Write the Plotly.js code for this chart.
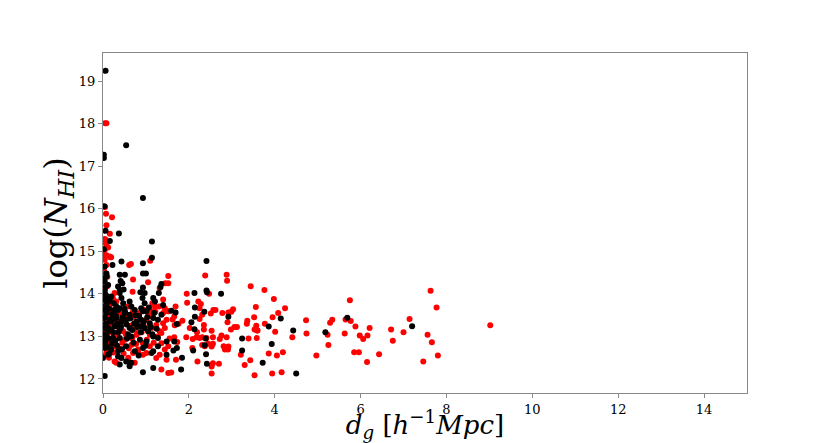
<!DOCTYPE html>
<html>
<head>
<meta charset="utf-8">
<script src="https://cdn.plot.ly/plotly-3.0.1.min.js"></script>
<style>
  html, body { margin: 0; padding: 0; background: #fff; }
  #chart { width: 830px; height: 443px; }
</style>
</head>
<body>
<div id="chart"></div>
<script>
// black sample: distance to galaxy vs log column density
var xBlack = [
  0.06, 0.54, 0.02, 0.02, 0.93, 0.03, 0.06, 0.37, 0.16, 1.14, 0.02, 1.14,
  0.43, 0.93, 0.22, 0.04, 0.08, 0.39, 0.51, 0.93, 1.00, 0.08, 0.04, 0.12, 0.41, 0.45, 0.35, 0.39,
  0.48, 0.93, 0.87, 0.97, 1.36, 1.34, 1.30, 0.04, 0.06, 0.02, 0.07, 0.04, 0.08, 0.19, 0.16, 0.25,
  0.31, 0.35, 0.62, 0.66, 0.74, 0.92, 0.97, 0.89, 1.01, 1.17, 1.21, 1.40, 0.39, 0.43, 0.47, 0.39, 0.51,
  0.27, 0.51, 0.62, 0.93, 1.36,
  0.04, 0.16, 0.31, 0.43, 0.54, 0.78, 0.93, 0.89, 1.09, 1.17, 1.28,
  0.04, 0.12, 0.27, 0.39, 0.62, 0.86, 0.97, 1.05,
  0.08, 0.23, 0.39, 0.66, 0.86, 1.01, 1.17, 1.28, 1.48, 0.00,
  0.04, 0.19, 0.35, 0.54, 0.74, 0.93, 1.17, 1.28,
  0.12, 0.35, 0.43, 0.54, 0.62, 1.13, 1.48, 0.00,
  0.39, 0.62, 0.66, 0.93, 1.17, 0.04,
  0.02, 0.05, 0.08, 0.11, 0.14, 0.03, 0.07, 0.12, 0.18, 0.21, 0.24, 0.28, 0.01, 0.05, 0.09, 0.13,
  0.17, 0.22, 0.26, 0.30, 0.33, 0.36, 0.42, 0.46, 0.50, 0.55, 0.58, 0.63, 0.68, 0.72, 0.76, 0.80,
  0.84, 0.88, 0.95, 1.03, 1.07, 1.11, 1.15, 1.19, 1.25, 0.15, 0.20, 0.29, 0.33, 0.44, 0.56, 0.71,
  0.83, 0.99,
  2.41, 2.13, 2.41, 2.42, 2.75, 1.59, 1.69, 2.92, 2.36, 1.72, 2.06, 2.13, 2.14, 3.86, 3.24, 2.39,
  1.66, 1.72, 1.64, 2.37, 3.24, 3.72, 3.93, 4.14, 2.14, 2.10, 2.40, 2.42, 1.84, 1.82, 4.43, 4.50,
  5.18, 5.69, 7.20
];
var yBlack = [
  19.24, 17.49, 17.27, 17.19, 16.25, 16.06, 15.48, 15.42, 15.24, 15.23, 15.05, 14.85,
  14.76, 14.72, 14.68, 14.64, 14.48, 14.45, 14.45, 14.48, 14.48, 14.41, 14.29, 14.21, 14.30, 14.25, 14.17, 14.09,
  14.10, 14.15, 14.04, 14.02, 14.23, 14.16, 14.02, 14.09, 13.98, 13.86, 13.74, 13.63, 13.55, 13.94, 13.86, 13.78,
  13.70, 13.62, 13.82, 13.70, 13.62, 13.90, 13.78, 13.66, 13.59, 13.90, 13.82, 13.74, 14.02, 13.90, 13.78, 13.66, 13.55,
  13.59, 13.57, 13.51, 13.59, 13.51,
  13.43, 13.39, 13.43, 13.35, 13.39, 13.35, 13.27, 13.39, 13.31, 13.43, 13.39,
  13.20, 13.12, 13.23, 13.16, 13.20, 13.23, 13.20, 13.12,
  13.00, 12.96, 12.96, 13.00, 12.92, 12.88, 13.00, 12.96, 12.88, 12.92,
  12.73, 12.69, 12.65, 12.77, 12.65, 12.73, 12.65, 12.77,
  12.57, 12.53, 12.49, 12.41, 12.38, 12.61, 12.57, 12.49,
  12.34, 12.30, 12.38, 12.16, 12.26, 12.07,
  14.35, 14.15, 13.95, 13.80, 13.65, 13.45, 13.30, 13.20, 13.35, 13.52, 13.10, 13.25, 13.05, 12.85, 12.75, 12.95,
  13.15, 13.40, 13.62, 13.48, 13.30, 13.10, 13.22, 13.45, 13.65, 13.28, 13.05, 13.42, 13.15, 13.30, 13.50, 13.22,
  13.48, 13.10, 13.35, 13.45, 13.68, 13.22, 13.05, 13.55, 13.18, 12.60, 12.82, 12.90, 12.78, 12.70, 12.95, 12.85,
  12.55, 12.78,
  14.77, 14.02, 14.08, 14.04, 14.00, 13.60, 13.56, 13.46, 13.58, 13.29, 13.33, 13.17, 13.46, 13.23, 12.95, 12.95,
  12.88, 12.73, 12.67, 12.79, 12.67, 12.38, 12.82, 13.42, 13.68, 12.67, 12.58, 12.36, 12.50, 12.22, 13.14, 12.13,
  13.10, 13.44, 13.24
];

// red sample
var xRed = [
  0.05, 0.08, 0.05, 0.07, 0.21, 0.08, 0.16, 0.04, 0.06, 0.09, 0.12, 0.06, 0.17, 0.03,
  0.06, 0.04, 0.08, 0.16, 0.04, 0.08, 0.02, 0.19, 0.61, 0.65, 1.10, 0.06, 0.10, 0.70, 1.05, 1.52,
  1.52, 0.69, 0.27, 0.23, 0.31, 0.00, 0.08, 0.00, 0.10, 0.58, 0.51, 1.15, 1.21, 1.05, 1.40, 1.44, 1.52,
  1.32, 1.45,
  0.00, 0.16, 0.39, 0.70, 1.05, 1.17, 1.40, 1.52,
  0.12, 0.23, 0.66, 1.01, 1.24, 1.40, 1.48,
  0.19, 0.47, 0.74, 1.13, 1.32, 1.44, 0.82,
  0.16, 0.31, 0.51, 0.78, 1.09, 1.36, 1.36, 0.93,
  0.12, 0.27, 0.66, 0.82, 1.09, 1.44, 1.52,
  0.27, 0.70, 0.82, 0.93, 1.01, 1.24, 1.48, 1.32,
  0.31, 0.74, 1.36, 1.52,
  0.02, 0.06, 0.10, 0.03, 0.08, 0.05, 0.14, 0.20, 1.70, 1.55, 1.62,
  0.01, 0.04, 0.07, 0.10, 0.13, 0.02, 0.06, 0.11, 0.15, 0.18, 0.22, 0.25, 0.29, 0.34, 0.38, 0.42,
  0.45, 0.49, 0.53, 0.57, 0.60, 0.64, 0.68, 0.73, 0.77, 0.81, 0.85, 0.90, 0.96, 1.02, 1.08, 1.12,
  1.18, 1.22, 1.27, 1.31, 0.09, 0.14, 0.24, 0.37, 0.48, 0.59,
  2.38, 2.88, 2.89, 3.44, 3.76, 3.98, 1.95, 2.47, 1.96, 2.22, 2.28, 2.25, 1.69, 1.66, 2.57, 2.62,
  2.51, 2.92, 3.03, 2.99, 2.78, 2.31, 1.85, 1.76, 1.67, 2.02, 2.25, 2.35, 2.35, 2.53, 2.19, 2.90,
  2.98, 3.06, 3.12, 3.36, 3.35, 3.52, 3.53, 3.60, 3.77, 4.01, 3.39, 3.58, 2.76, 2.72, 2.88, 2.56,
  2.56, 2.45, 2.41, 2.31, 2.25, 2.18, 2.09, 1.94, 1.66, 1.73, 2.08, 2.31, 2.37, 2.53, 2.81, 2.84,
  2.92, 2.91, 3.21, 3.86, 4.05, 4.16, 3.30, 3.43, 3.53, 3.94, 2.20, 2.56, 2.70, 2.53, 2.53, 1.59,
  3.56, 4.08, 3.95, 3.57, 3.59, 4.19,
  4.24, 4.41, 4.73, 4.74, 4.97, 5.23, 5.25, 5.29, 5.34, 5.63, 5.65, 5.75, 5.77, 5.88, 5.98, 6.06,
  6.16, 6.21, 5.85, 5.96, 6.15, 6.43, 6.71, 6.75, 7.00, 7.14, 7.63, 7.77, 7.56, 7.66, 7.46, 7.80,
  9.02
];
var yRed = [
  18.01, 18.01, 16.04, 15.88, 15.80, 15.61, 15.41, 15.29, 15.27, 15.20, 15.09, 15.07, 14.86, 14.90,
  15.19, 15.03, 14.91, 14.88, 14.80, 14.68, 14.56, 14.86, 14.68, 14.70, 14.78, 14.45, 14.18, 14.34, 14.27, 14.42,
  14.25, 14.05, 14.02, 13.90, 13.82, 14.02, 13.92, 13.70, 13.66, 13.70, 13.59, 13.78, 13.70, 13.62, 13.87, 13.66, 13.59,
  14.14, 14.25,
  13.59, 13.59, 13.55, 13.59, 13.55, 13.59, 13.55, 13.59,
  13.31, 13.35, 13.43, 13.39, 13.27, 13.31, 13.39,
  13.20, 13.12, 13.16, 13.20, 13.12, 13.20, 13.08,
  12.88, 13.04, 12.92, 13.04, 13.04, 13.08, 12.84, 12.84,
  12.80, 12.77, 12.80, 12.69, 12.77, 12.69, 12.77,
  12.41, 12.61, 12.61, 12.57, 12.61, 12.49, 12.45, 12.57,
  12.38, 12.38, 12.22, 12.14,
  13.45, 13.25, 13.05, 12.85, 12.62, 12.55, 13.50, 13.10, 12.45, 12.95, 13.40,
  14.25, 14.05, 13.85, 14.40, 13.75, 13.35, 13.15, 12.95, 13.70, 13.25, 13.48, 13.00, 13.58, 13.42, 13.20, 13.62,
  12.85, 13.32, 13.05, 13.45, 12.72, 13.25, 12.95, 13.48, 12.82, 13.30, 13.55, 13.10, 13.62, 12.92, 13.25, 13.48,
  12.85, 13.58, 13.00, 13.70, 12.70, 12.50, 12.62, 12.72, 12.60, 12.50,
  14.43, 14.45, 14.31, 14.18, 14.09, 13.88, 14.00, 14.00, 13.79, 13.82, 13.76, 13.66, 13.70, 13.47, 13.62, 13.62,
  13.54, 13.56, 13.64, 13.58, 13.55, 13.51, 13.37, 13.30, 13.26, 13.20, 13.41, 13.27, 13.16, 13.13, 13.10, 13.33,
  13.16, 13.22, 13.22, 13.37, 13.30, 13.45, 13.16, 13.14, 13.30, 13.11, 12.95, 12.96, 13.02, 12.94, 12.98, 12.98,
  12.83, 12.83, 12.96, 12.98, 12.96, 12.98, 12.94, 12.98, 12.98, 12.87, 12.73, 12.80, 12.77, 12.76, 12.77, 12.69,
  12.76, 12.69, 12.57, 12.60, 12.55, 12.16, 12.33, 12.44, 12.09, 12.13, 12.41, 12.37, 12.36, 12.29, 12.13, 12.15,
  13.69, 13.55, 13.45, 13.25, 13.14, 12.63,
  13.66, 12.98, 13.38, 13.07, 12.55, 13.04, 12.80, 13.32, 13.39, 13.07, 13.40, 13.85, 13.36, 13.23, 13.02, 12.94,
  13.02, 13.20, 12.63, 12.63, 12.40, 12.58, 13.16, 12.90, 13.10, 13.41, 14.07, 13.68, 13.04, 12.86, 12.41, 12.55,
  13.26
];

var serif = 'DejaVu Serif, serif';

var data = [
  {
    type: 'scatter', mode: 'markers', x: xRed, y: yRed,
    marker: { color: '#ff0000', size: 6 }, hoverinfo: 'x+y'
  },
  {
    type: 'scatter', mode: 'markers', x: xBlack, y: yBlack,
    marker: { color: '#000000', size: 6 }, hoverinfo: 'x+y'
  }
];

var layout = {
  width: 830, height: 443,
  margin: { l: 103, r: 83, t: 53, b: 50 },
  paper_bgcolor: '#ffffff', plot_bgcolor: '#ffffff',
  showlegend: false,
  font: { family: serif, color: '#000' },
  xaxis: {
    range: [0, 15], tickvals: [0, 2, 4, 6, 8, 10, 12, 14],
    showgrid: false, zeroline: false,
    showline: true, mirror: true, linecolor: '#888', linewidth: 1,
    ticks: 'outside', ticklen: 4, tickcolor: '#888',
    tickfont: { family: serif, size: 13, color: '#000' },
    title: {
      text: '<i>d</i><sub><i>g</i></sub> [<i>h</i><sup>\u22121</sup><i>Mpc</i>]',
      font: { family: serif, size: 26, color: '#000' }, standoff: 6
    }
  },
  yaxis: {
    range: [11.67, 19.66], tickvals: [12, 13, 14, 15, 16, 17, 18, 19],
    showgrid: false, zeroline: false,
    showline: true, mirror: true, linecolor: '#888', linewidth: 1,
    ticks: 'outside', ticklen: 4, tickcolor: '#888',
    tickfont: { family: serif, size: 13, color: '#000' },
    title: {
      text: 'log(<i>N</i><sub><i>HI</i></sub>)',
      font: { family: serif, size: 32, color: '#000' }, standoff: 0
    }
  }
};

Plotly.newPlot('chart', data, layout, { displayModeBar: false, staticPlot: true });
</script>
</body>
</html>
